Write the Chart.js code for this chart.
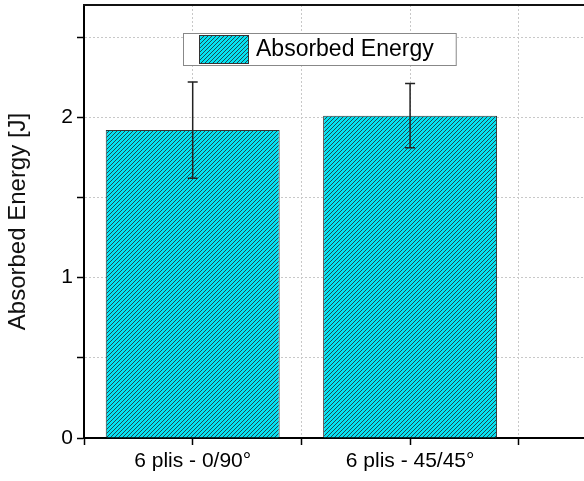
<!DOCTYPE html>
<html>
<head>
<meta charset="utf-8">
<script src="https://cdn.jsdelivr.net/npm/chart.js@4/dist/chart.umd.min.js"></script>
<style>
html,body{margin:0;padding:0;background:#fff;overflow:hidden;}
canvas{display:block;}
</style>
</head>
<body>
<canvas id="chart" width="584" height="481"></canvas>
<script>
const categories=["6 plis - 0/90°","6 plis - 45/45°"];
const energy=[1.92,2.01];
const energyErr=[0.30,0.20];
const seriesName="Absorbed Energy";
const yTitle="Absorbed Energy [J]";
const yMax=2.7, xMax=1.8;

const FONT="'Liberation Sans', Arial, sans-serif";

// hatched fill: cyan with dark "///" stripes
function makeHatch(){
  const s=4, c=document.createElement("canvas"); c.width=s; c.height=s;
  const g=c.getContext("2d");
  g.fillStyle="#05e2f2"; g.fillRect(0,0,s,s);
  g.strokeStyle="#1f4852"; g.lineWidth=1;
  g.beginPath();
  g.moveTo(-1,s+1); g.lineTo(s+1,-1);
  g.moveTo(-1,1); g.lineTo(1,-1);
  g.moveTo(s-1,s+1); g.lineTo(s+1,s-1);
  g.stroke();
  return document.getElementById("chart").getContext("2d").createPattern(c,"repeat");
}
const hatch=makeHatch();

// keep only ticks on the 0.5 grid (drops the auto max tick)
function halfTicks(axis){ axis.ticks=axis.ticks.filter(t=>Math.abs(t.value*2-Math.round(t.value*2))<1e-6); }

// error bars, frame top line and in-plot legend
const extras={
  id:"extras",
  afterDatasetsDraw(chart){
    const {ctx,scales:{x,y}}=chart;
    ctx.save();
    ctx.strokeStyle="#222"; ctx.lineWidth=1.5;
    energy.forEach((v,i)=>{
      const px=x.getPixelForValue(i), top=y.getPixelForValue(v+energyErr[i]), bot=y.getPixelForValue(v-energyErr[i]);
      ctx.beginPath();
      ctx.moveTo(px,top); ctx.lineTo(px,bot);
      ctx.moveTo(px-5,top); ctx.lineTo(px+5,top);
      ctx.moveTo(px-5,bot); ctx.lineTo(px+5,bot);
      ctx.stroke();
    });
    ctx.restore();
  },
  afterDraw(chart){
    const {ctx,chartArea:a}=chart;
    ctx.save();
    // top frame line
    ctx.strokeStyle="#111"; ctx.lineWidth=2;
    ctx.beginPath(); ctx.moveTo(a.left-1,a.top); ctx.lineTo(chart.width,a.top); ctx.stroke();
    // legend
    ctx.font="23px "+FONT;
    const tw=ctx.measureText(seriesName).width;
    const bx=a.left+99, by=a.top+28, bh=32, bw=73+tw+22;
    ctx.fillStyle="#fff"; ctx.fillRect(bx,by,bw,bh);
    ctx.strokeStyle="#888"; ctx.lineWidth=1; ctx.strokeRect(bx+0.5,by+0.5,bw,bh);
    ctx.fillStyle=hatch; ctx.fillRect(bx+16,by+2,49,29);
    ctx.strokeStyle="#333"; ctx.strokeRect(bx+16.5,by+2.5,49,28);
    ctx.fillStyle="#000"; ctx.textBaseline="middle"; ctx.textAlign="left";
    ctx.fillText(seriesName,bx+73,by+bh/2+1);
    ctx.restore();
  }
};

new Chart(document.getElementById("chart").getContext("2d"),{
  type:"bar",
  data:{datasets:[{
    label:seriesName,
    data:energy.map((v,i)=>({x:i,y:v})),
    backgroundColor:hatch,borderColor:"#333",borderWidth:1,
    // ruler uses the 0.5 tick spacing, so 1.6 -> 80% of one category
    barPercentage:1.6,categoryPercentage:1
  }]},
  options:{
    responsive:false,animation:false,devicePixelRatio:1,events:[],
    layout:{padding:{top:5,right:0,left:0,bottom:0}},
    plugins:{legend:{display:false},tooltip:{enabled:false}},
    scales:{
      x:{
        type:"linear",min:-0.5,max:xMax,offset:false,
        afterBuildTicks:halfTicks,
        afterFit(s){ s.height=43; },
        ticks:{stepSize:0.5,autoSkip:false,maxRotation:0,padding:4,color:"#000",font:{family:FONT,size:21},
          callback:v=>Number.isInteger(v)&&categories[v]!==undefined?categories[v]:""},
        grid:{offset:false,color:"#c8c8c8",lineWidth:1,tickColor:"#000",tickLength:7,tickWidth:1.5},
        border:{display:true,color:"#000",width:2,dash:[2,2]}
      },
      y:{
        min:0,max:yMax,
        afterBuildTicks:halfTicks,
        afterFit(s){ s.width=84; s.paddingTop=0; },
        ticks:{stepSize:0.5,padding:4,color:"#000",font:{family:FONT,size:21},
          callback:v=>Number.isInteger(v)?String(v):""},
        grid:{color:"#c8c8c8",lineWidth:1,tickColor:"#000",tickLength:7,tickWidth:1.5},
        border:{display:true,color:"#000",width:2,dash:[2,2]},
        title:{display:true,text:yTitle,color:"#111",font:{family:FONT,size:24},padding:{top:4,bottom:0}}
      }
    }
  },
  plugins:[extras]
});
</script>
</body>
</html>
